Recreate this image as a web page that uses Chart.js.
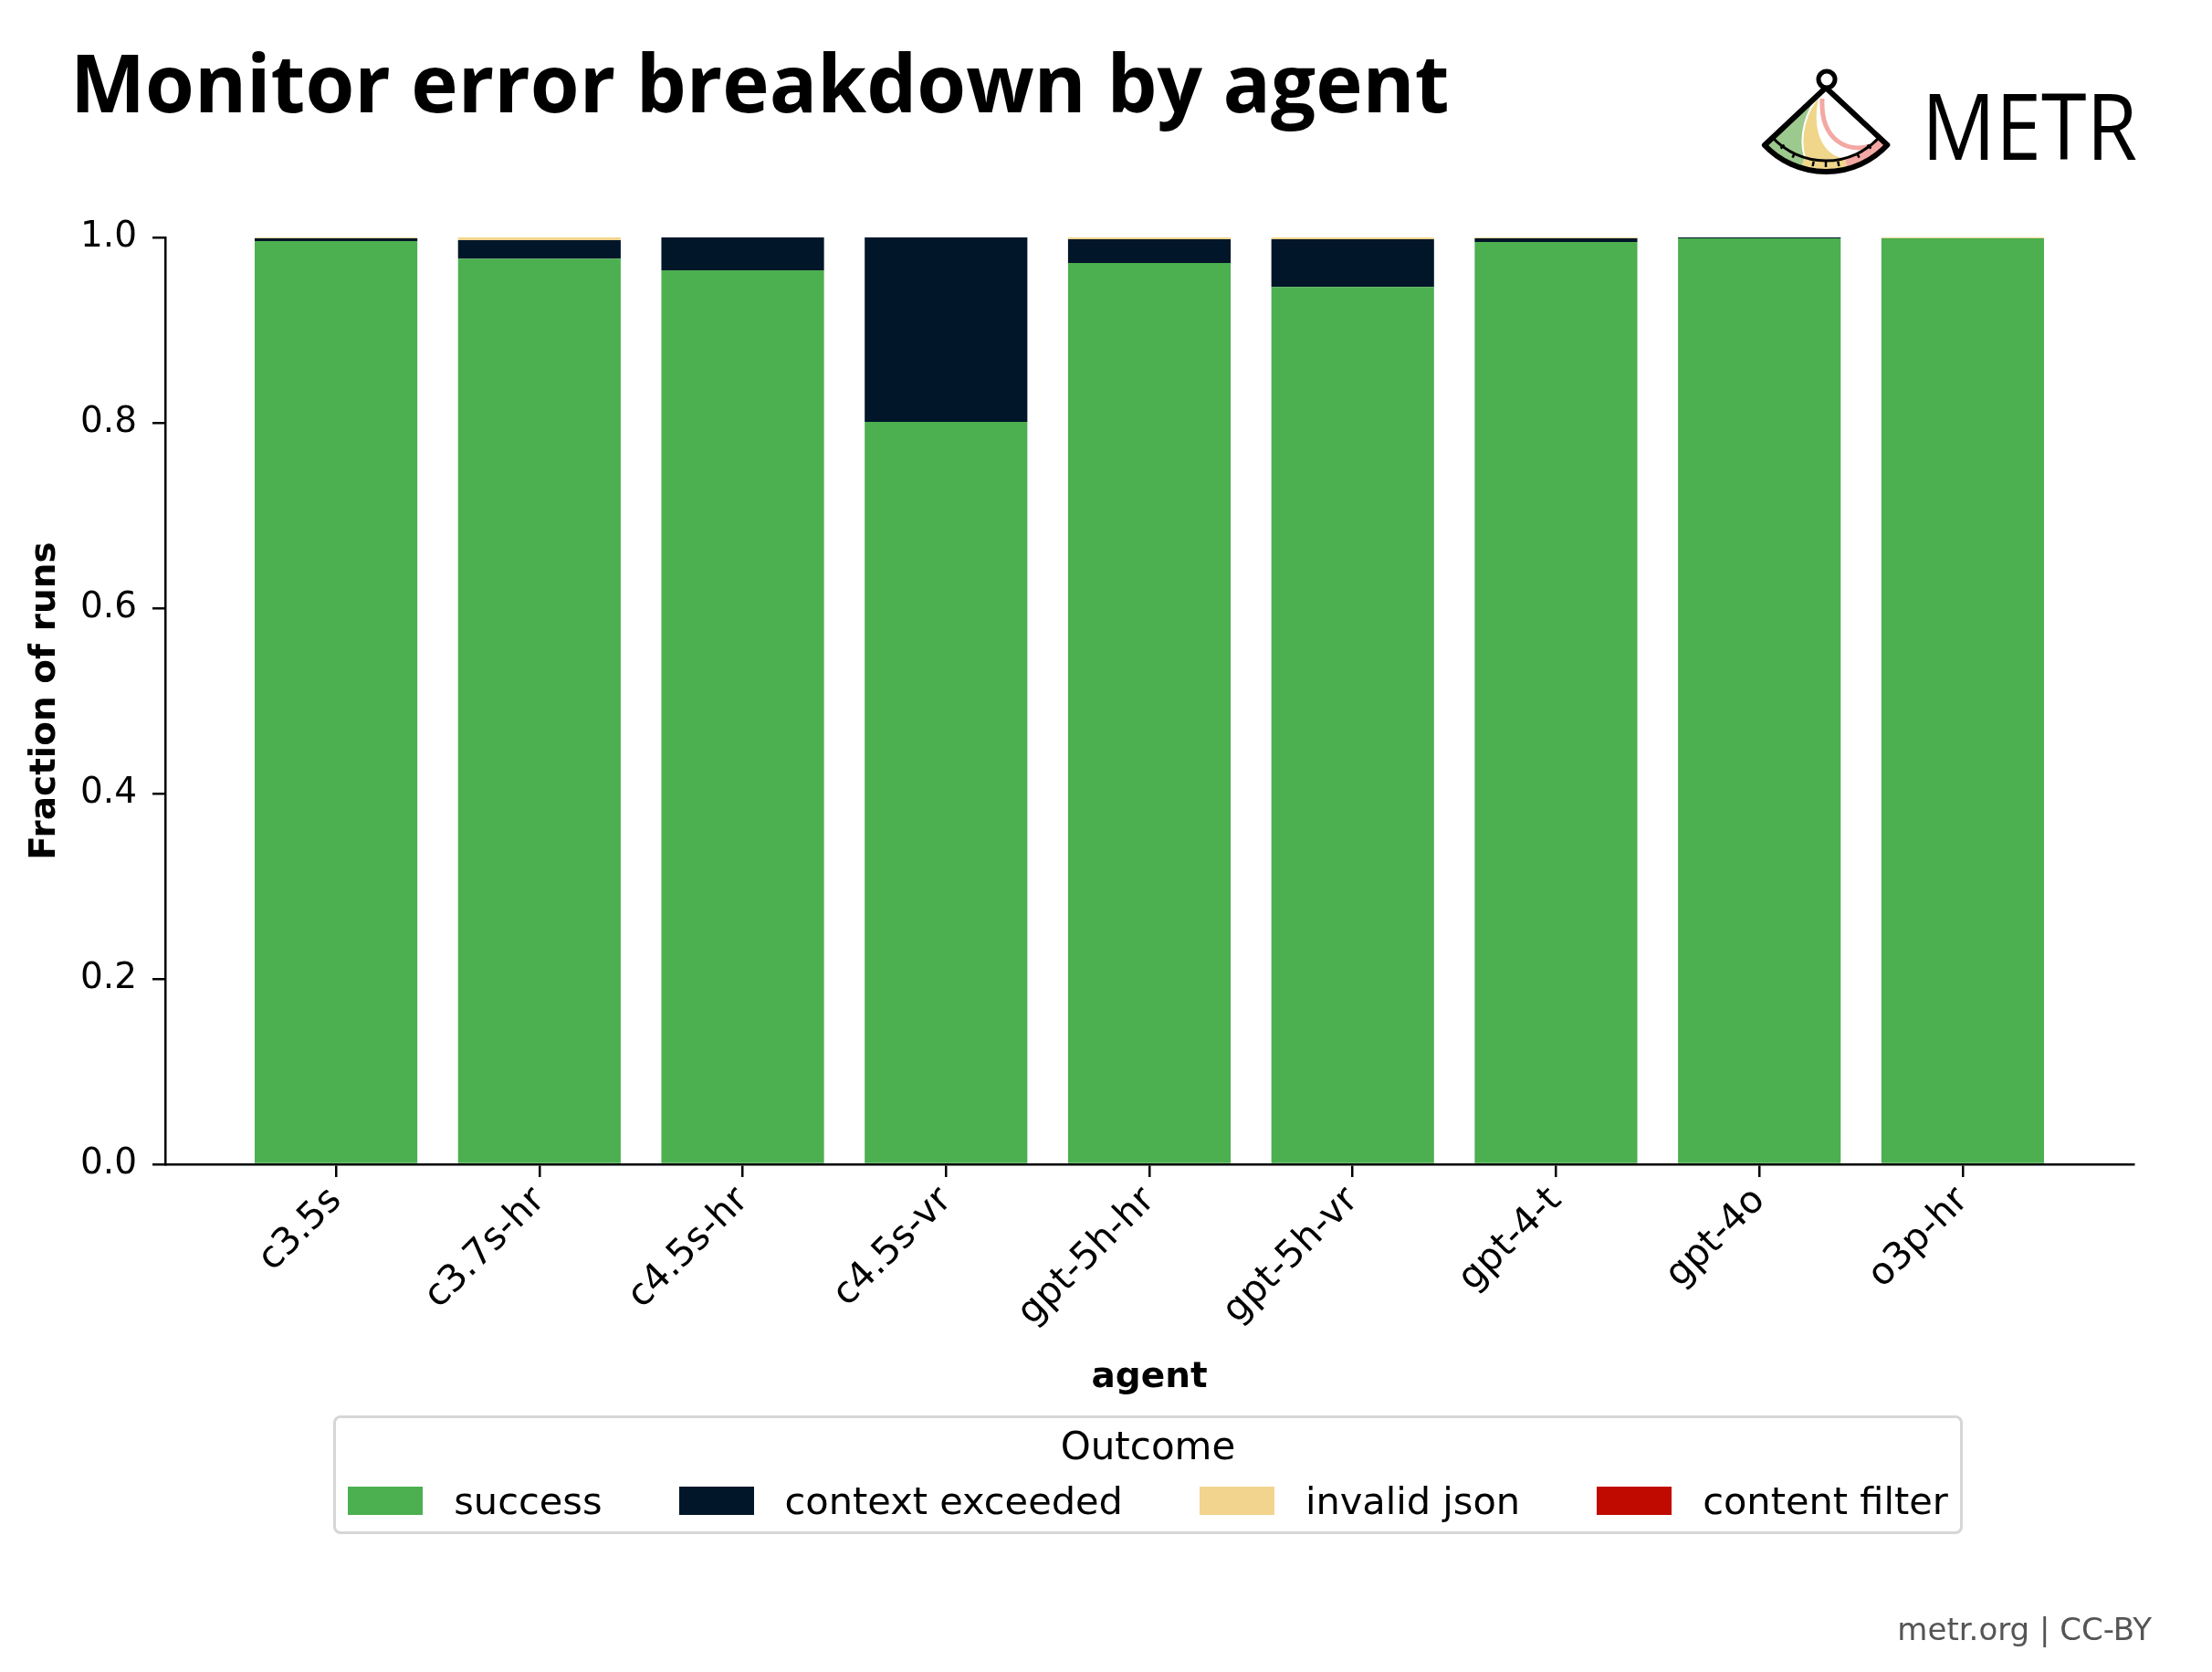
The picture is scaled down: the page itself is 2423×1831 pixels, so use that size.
<!DOCTYPE html>
<html>
<head>
<meta charset="utf-8">
<title>Monitor error breakdown by agent</title>
<script src="https://cdn.jsdelivr.net/npm/chart.js@4.4.1/dist/chart.umd.min.js"></script>
<style>
  html, body { margin: 0; padding: 0; background: #fff; }
  #page { position: relative; width: 2423px; height: 1831px; overflow: hidden; }
  #chart { position: absolute; left: 0; top: 0; }
  #title { position: absolute; left: 77px; top: 46px; font: 700 87px 'Open Sans'; line-height: 1; color: #000; white-space: nowrap; }
  #metr { position: absolute; left: 2105px; top: 86px; font: 400 100px 'Open Sans'; line-height: 1; color: #000; transform: scaleX(0.9); transform-origin: left top; }
  #footer { position: absolute; right: 66px; top: 1767px; font: 400 34px 'DejaVu Sans'; line-height: 1; color: #555; }
  #legend { position: absolute; left: 365px; top: 1550px; width: 1785px; height: 130px; box-sizing: border-box;
            border: 3px solid #d6d6d6; border-radius: 8px; font-family: 'DejaVu Sans'; }
  #legend .ltitle { position: absolute; left: 0; right: 0; top: 6px; height: 50px; line-height: 50px; text-align: center; font-size: 42px; color: #000; }
  #legend .lrow { position: absolute; left: 0; right: 0; top: 65px; height: 50px; display: flex; align-items: center; justify-content: center; }
  #legend .item { display: flex; align-items: center; margin-right: 84px; font-size: 41.5px; color: #000; white-space: nowrap; }
  #legend .item:last-child { margin-right: 0; }
  #legend .swatch { width: 82px; height: 31px; margin-right: 34px; }
  svg#logo { position: absolute; left: 0; top: 0; }
</style>
</head>
<body>
<div id="page">
  <canvas id="chart" width="2423" height="1831"></canvas>
  <div id="title">Monitor error breakdown by agent</div>
  <svg id="logo" width="2423" height="220" viewBox="0 0 2423 220">
    <!-- fan fills -->
    <path d="M2000 96 L1941.7 150.8 A80 80 0 0 0 1977 172.5 C1970 150 1978 120 1994 104 Z" fill="#9cc98e"/>
    <path d="M1994 104 C1978 120 1970 150 1977 172.5 A80 80 0 0 0 2021 173 C1995 168 1985 140 1994 104 Z" fill="#f0d68b" stroke="#fff" stroke-width="2"/>
    <path d="M1996 108 C1994 150 2020 172 2058 157" fill="none" stroke="#f4a8a3" stroke-width="5"/>
    <!-- rim band -->
    <path d="M1937.3 154.9 A86 86 0 0 0 1974.9 178.2" fill="none" stroke="#9cc98e" stroke-width="12"/>
    <path d="M1974.9 178.2 A86 86 0 0 0 2022.3 179.1" fill="none" stroke="#f0d68b" stroke-width="12"/>
    <path d="M2022.3 179.1 A86 86 0 0 0 2062.9 154.7" fill="none" stroke="#f4a8a3" stroke-width="12"/>
    <path d="M1941.7 150.8 A80 80 0 0 0 2058.5 150.6" fill="none" stroke="#000" stroke-width="3"/>
    <g stroke="#000" stroke-width="2.5">
      <line x1="1950.6" y1="162.6" x2="1954.4" y2="158.6"/>
      <line x1="1963.4" y1="172.7" x2="1965.8" y2="168.2"/>
      <line x1="1985.6" y1="181.9" x2="1986.7" y2="176.8"/>
      <line x1="2000" y1="183" x2="2000" y2="177"/>
      <line x1="2014.4" y1="181.9" x2="2013.3" y2="176.8"/>
      <line x1="2036.6" y1="172.7" x2="2034.2" y2="168.2"/>
      <line x1="2049.4" y1="162.6" x2="2045.6" y2="158.6"/>
    </g>
    <!-- outline and pin -->
    <path d="M2000 96 L1932.9 159 A92 92 0 0 0 2067.3 158.7 Z" fill="none" stroke="#000" stroke-width="6" stroke-linejoin="round"/>
    <circle cx="2001" cy="87" r="9" fill="#fff" stroke="#000" stroke-width="5"/>
  </svg>
  <div id="metr">METR</div>
  <div id="legend"><div class="ltitle">Outcome</div><div class="lrow"></div></div>
  <div id="footer">metr.org | CC-BY</div>
</div>
<script>
const agents = ['c3.5s', 'c3.7s-hr', 'c4.5s-hr', 'c4.5s-vr', 'gpt-5h-hr', 'gpt-5h-vr', 'gpt-4-t', 'gpt-4o', 'o3p-hr']
const success = [0.996, 0.977, 0.9645, 0.801, 0.9725, 0.9465, 0.995, 0.999, 0.999]
const contextExceeded = [0.003, 0.020, 0.0355, 0.199, 0.0255, 0.0515, 0.004, 0.001, 0.0]
const invalidJson = [0.001, 0.003, 0.0, 0.0, 0.002, 0.002, 0.001, 0.0, 0.001]
const contentFilter = [0, 0, 0, 0, 0, 0, 0, 0, 0]
const yTicks = [0.0, 0.2, 0.4, 0.6, 0.8, 1.0]

Chart.defaults.font.family = "'DejaVu Sans'"
Chart.defaults.color = '#000'

// bars sit on a numeric x axis so the outer margins can match the original
function toPoints(values) {
    return values.map((v, i) => ({x: i, y: v}))
}

const ctx = document.getElementById('chart')
const chart = new Chart(ctx, {
    type: 'bar',
    data: {
        datasets: [
            {label: 'success', data: toPoints(success), backgroundColor: '#4caf50'},
            {label: 'context exceeded', data: toPoints(contextExceeded), backgroundColor: '#011629'},
            {label: 'invalid json', data: toPoints(invalidJson), backgroundColor: '#f3d48e'},
            {label: 'content filter', data: toPoints(contentFilter), backgroundColor: '#c00a00'},
        ]
    },
    options: {
        responsive: false,
        animation: false,
        devicePixelRatio: 1,
        layout: {padding: {top: 260, right: 86, bottom: 281, left: 0}},
        datasets: {
            bar: {borderWidth: 0, categoryPercentage: 1.0, barPercentage: 0.8}
        },
        plugins: {
            legend: {display: false},
            tooltip: {enabled: false},
        },
        scales: {
            x: {
                type: 'linear',
                stacked: true,
                offset: false,
                bounds: 'data',
                min: -0.84,
                max: 8.84,
                afterFit: (scale) => { scale.height = 275 },
                afterBuildTicks: (scale) => { scale.ticks = agents.map((a, i) => ({value: i})) },
                ticks: {
                    autoSkip: false,
                    minRotation: 45,
                    maxRotation: 45,
                    padding: 2,
                    font: {size: 41},
                    callback: (v) => agents[v]
                },
                grid: {offset: false, drawOnChartArea: false, drawTicks: true, tickLength: 14, color: '#000', lineWidth: 2.5},
                border: {display: true, color: '#000', width: 2.5},
                title: {display: true, text: 'agent', font: {size: 39, weight: 'bold'}, padding: {top: 4, bottom: 18}}
            },
            y: {
                stacked: true,
                min: 0,
                max: 1,
                afterFit: (scale) => { scale.width = 181 },
                afterBuildTicks: (scale) => { scale.ticks = yTicks.map(v => ({value: v})) },
                ticks: {
                    padding: 17,
                    font: {size: 39},
                    callback: (v) => v.toFixed(1)
                },
                grid: {drawOnChartArea: false, drawTicks: true, tickLength: 14, color: '#000', lineWidth: 2.5},
                border: {display: true, color: '#000', width: 2.5},
                title: {display: true, text: 'Fraction of runs', font: {size: 39, weight: 'bold'}, padding: {top: 26, bottom: 4}}
            }
        }
    }
})

// html legend built from the chart datasets
const row = document.querySelector('#legend .lrow')
chart.data.datasets.forEach(ds => {
    const item = document.createElement('div')
    item.className = 'item'
    const sw = document.createElement('span')
    sw.className = 'swatch'
    sw.style.background = ds.backgroundColor
    const txt = document.createElement('span')
    txt.textContent = ds.label
    item.appendChild(sw)
    item.appendChild(txt)
    row.appendChild(item)
})
</script>
</body>
</html>
